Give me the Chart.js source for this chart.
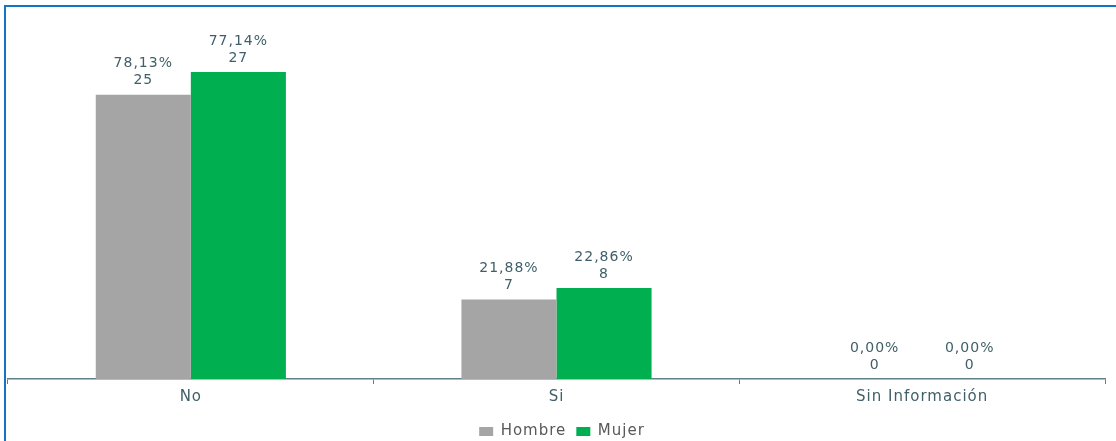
<!DOCTYPE html>
<html>
<head>
<meta charset="utf-8">
<script src="https://cdn.jsdelivr.net/npm/chart.js@4"></script>
<style>
    html, body { margin: 0; padding: 0; background: #fff; }
    #wrap { position: absolute; left: 0; top: 0; width: 1116px; height: 441px; }
    .edge { position: absolute; background: #1674c6; }
    #edge-top { left: 4px; top: 5px; width: 1112px; height: 2px; }
    #edge-left { left: 4px; top: 5px; width: 2px; height: 436px; }
</style>
</head>
<body>
<div id="wrap"><canvas id="chart"></canvas></div>
<div class="edge" id="edge-top"></div>
<div class="edge" id="edge-left"></div>
<script>
const categories = ['No', 'Si', 'Sin Información']
const hombreCount = [25, 7, 0]
const mujerCount = [27, 8, 0]
const hombrePct = [78.13, 21.88, 0]
const mujerPct = [77.14, 22.86, 0]

const LABEL_COLOR = '#3f5f69'
const AXIS_COLOR = '#5d8089'

// two-line value labels over each bar: percentage, then count
const barLabels = {
    id: 'barLabels',
    afterDatasetsDraw(chart) {
        const ctx = chart.ctx
        const pcts = [hombrePct, mujerPct]
        ctx.save()
        ctx.font = '14px "DejaVu Sans"'
        ctx.letterSpacing = '1px'
        ctx.fillStyle = LABEL_COLOR
        ctx.textAlign = 'center'
        ctx.textBaseline = 'middle'
        chart.data.datasets.forEach((ds, i) => {
            chart.getDatasetMeta(i).data.forEach((bar, j) => {
                const pct = pcts[i][j].toFixed(2).replace('.', ',') + '%'
                ctx.fillText(pct, bar.x, bar.y - 31)
                ctx.fillText(String(ds.data[j]), bar.x, bar.y - 14)
            })
        })
        ctx.restore()
    }
}

const spacing = {
    id: 'spacing',
    beforeDraw(chart) { chart.ctx.letterSpacing = '1px' }
}

new Chart(document.getElementById('chart'), {
    type: 'bar',
    data: {
        labels: categories,
        datasets: [
            { label: 'Hombre', data: hombreCount, backgroundColor: '#a5a5a5', borderWidth: 0 },
            { label: 'Mujer', data: mujerCount, backgroundColor: '#00b050', borderWidth: 0 }
        ]
    },
    options: {
        responsive: true,
        maintainAspectRatio: false,
        animation: false,
        layout: { padding: { left: 8, right: 11, top: 38, bottom: -8 } },
        datasets: { bar: { categoryPercentage: 0.52, barPercentage: 1 } },
        scales: {
            x: {
                grid: { display: true, drawOnChartArea: false, color: AXIS_COLOR, tickLength: 5, offset: true },
                border: { display: true, color: AXIS_COLOR, width: 1.5 },
                ticks: { color: LABEL_COLOR, font: { family: 'DejaVu Sans', size: 15 }, padding: 4 },
                afterFit: (scale) => { scale.height = 35 }
            },
            y: { display: false, min: 0, max: 30 }
        },
        plugins: {
            legend: {
                position: 'bottom',
                labels: {
                    boxWidth: 14,
                    boxHeight: 9,
                    padding: 10,
                    color: '#595959',
                    font: { family: 'DejaVu Sans', size: 15 }
                }
            },
            tooltip: { enabled: false }
        }
    },
    plugins: [spacing, barLabels]
})
</script>
</body>
</html>
